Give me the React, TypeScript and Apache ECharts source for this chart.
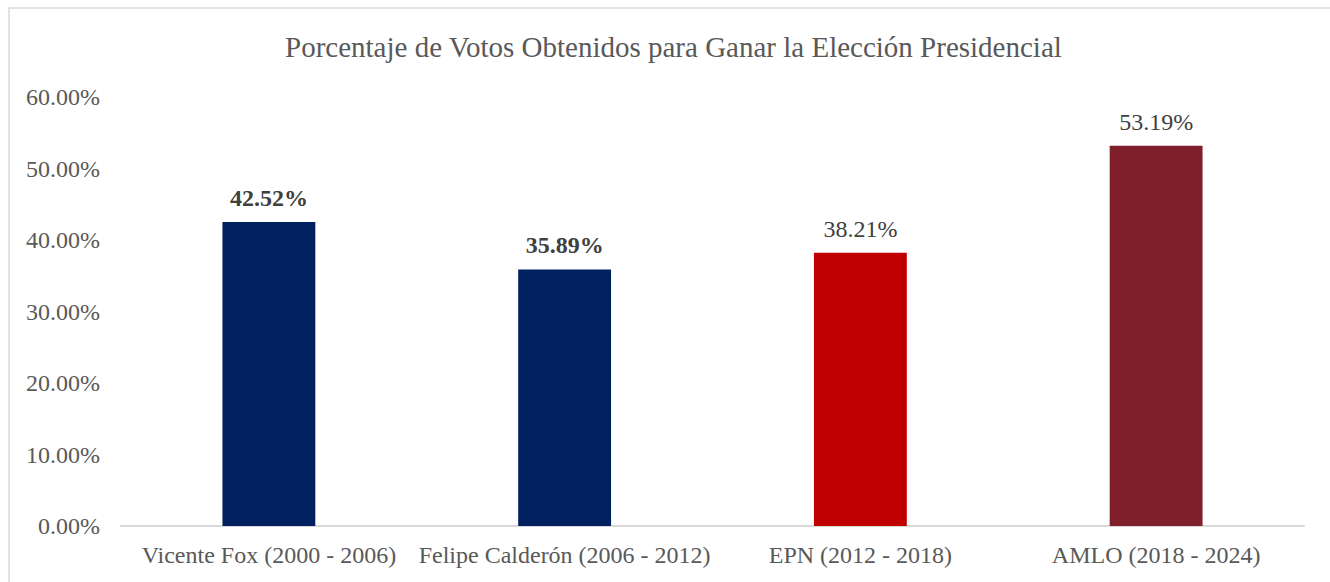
import React, { useEffect, useRef } from "react";
import * as echarts from "echarts";

const categories = [
  "Vicente Fox (2000 - 2006)",
  "Felipe Calderón (2006 - 2012)",
  "EPN (2012 - 2018)",
  "AMLO (2018 - 2024)",
];
const values = [42.52, 35.89, 38.21, 53.19];
const barColors = ["#002060", "#002060", "#C00000", "#7F1F2C"];
const labelBold = [true, true, false, false];
const titleText = "Porcentaje de Votos Obtenidos para Ganar la Elección Presidencial";

const FONT = "'Liberation Serif', 'Times New Roman', serif";

export default function App() {
  const ref = useRef<HTMLDivElement>(null);
  useEffect(() => {
    if (!ref.current) return;
    const chart = echarts.init(ref.current, undefined, { renderer: "svg" });
    chart.setOption({
      animation: false,
      backgroundColor: "#ffffff",
      textStyle: { fontFamily: FONT },
      title: {
        text: titleText,
        left: 280,
        top: 27,
        textStyle: { fontFamily: FONT, fontSize: 29, fontWeight: "normal", color: "#595959" },
      },
      graphic: [
        {
          type: "rect",
          shape: { x: 9, y: 8, width: 1500, height: 800 },
          style: { fill: "none", stroke: "#D9D9D9", lineWidth: 1.5 },
          silent: true,
        },
      ],
      grid: { left: 121, right: 26, top: 97, bottom: 56, containLabel: false },
      xAxis: {
        type: "category",
        data: categories,
        axisLine: { show: true, lineStyle: { color: "#D9D9D9", width: 2 } },
        axisTick: { show: false },
        axisLabel: { color: "#595959", fontSize: 24, fontFamily: FONT, margin: 17, interval: 0 },
        splitLine: { show: false },
      },
      yAxis: {
        type: "value",
        min: 0,
        max: 60,
        interval: 10,
        axisLine: { show: false },
        axisTick: { show: false },
        splitLine: { show: false },
        axisLabel: {
          color: "#595959",
          fontSize: 24,
          fontFamily: FONT,
          margin: 21,
          formatter: (v: number) => v.toFixed(2) + "%",
        },
      },
      series: [
        {
          type: "bar",
          barWidth: "31.4%",
          data: values.map((v, i) => ({
            value: v,
            itemStyle: { color: barColors[i] },
            label: {
              show: true,
              position: "top",
              distance: 12,
              fontFamily: FONT,
              fontSize: 24,
              color: "#404040",
              fontWeight: labelBold[i] ? "bold" : "normal",
              formatter: (p: any) => Number(p.value).toFixed(2) + "%",
            },
          })),
        },
      ],
    });
    return () => chart.dispose();
  }, []);
  return (
    <div
      ref={ref}
      style={{ position: "fixed", left: 0, top: 0, width: 1330, height: 582 }}
    />
  );
}
